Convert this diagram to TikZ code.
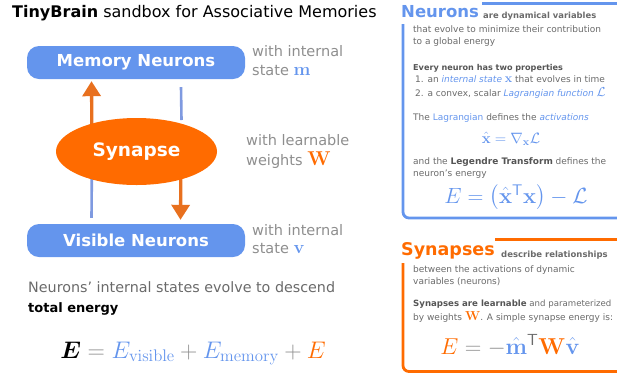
\RequirePackage{fix-cm}
\documentclass[tikz,border=0pt]{standalone}
\usepackage{amsmath,bm}
\usepackage[no-math]{fontspec}
\setmainfont{DejaVu Sans}
\usetikzlibrary{arrows.meta,calc,shapes.geometric}
\definecolor{nblue}{HTML}{6495ED}
\definecolor{lblue}{HTML}{7F9AE0}
\definecolor{sorange}{HTML}{FF6B00}
\definecolor{aorange}{HTML}{E8701E}
\definecolor{lgray}{HTML}{8E8E8E}
\definecolor{dgray}{HTML}{6A6A6A}
\definecolor{ddgray}{HTML}{555555}
\pgfdeclarelayer{bg}
\pgfsetlayers{bg,main}
\tikzset{
  nbox/.style={rounded corners=12pt, fill=nblue, text=white, minimum width=218pt, minimum height=33pt, inner sep=0pt, font=\fontsize{16.5}{20}\selectfont\bfseries},
  side/.style={anchor=base west, text=lgray, inner sep=0pt, font=\fontsize{14.5}{17}\selectfont},
  small/.style={anchor=base west, text=dgray, inner sep=0pt, font=\fontsize{9}{11}\selectfont},
  smallb/.style={small, text=ddgray, font=\fontsize{8.5}{11}\selectfont\bfseries},
  oarr/.style={draw=aorange, line width=3.3pt, -{Triangle[length=15pt,width=18pt]}},
  bline/.style={draw=lblue, line width=2.6pt},
  panelb/.style={draw=nblue, line width=2.8pt, rounded corners=6pt},
  panelo/.style={draw=sorange, line width=2.8pt, rounded corners=6pt},
}
\begin{document}
\begin{tikzpicture}[x=1pt,y=-1pt]
\useasboundingbox (0,0) rectangle (617,373);
% title
\node[anchor=base west, inner sep=0pt, font=\fontsize{16}{19}\selectfont] (title) at (12,17) {\textbf{TinyBrain} sandbox for Associative Memories};
% boxes
\node[nbox] (mem) at (136,62.5) {Memory Neurons};
\node[nbox] (vis) at (136,240.5) {Visible Neurons};
\node[ellipse, fill=sorange, text=white, minimum width=161pt, minimum height=67pt, inner sep=0pt, font=\fontsize{18.5}{22}\selectfont\bfseries] (syn) at (136.5,151.5) {Synapse};
% connectors
\begin{pgfonlayer}{bg}
\draw[oarr] ($(syn.center)+(-44.5,0)$) -- ($(mem.south)+(-44.5,2)$);
\draw[bline] ($(mem.south)+(45,8)$) -- ($(syn.center)+(45,-31.5)$);
\draw[bline] ($(syn.center)+(-44.5,0)$) -- ($(vis.north)+(-44.5,-6)$);
\draw[oarr] ($(syn.center)+(44.5,0)$) -- ($(vis.north)+(44.5,-4)$);
\end{pgfonlayer}
% side texts
\node[side] (m1) at (252,56) {with internal};
\node[side] (m2) at (252,75) {state {\fontsize{18}{18}\selectfont$\color{nblue}\mathbf{m}$}};
\node[side] (w1) at (246,145) {with learnable};
\node[side] (w2) at (246,165) {weights {\fontsize{20}{20}\selectfont$\color{sorange}\mathbf{W}$}};
\node[side] (v1) at (252,235) {with internal};
\node[side] (v2) at (252,253) {state {\fontsize{18}{18}\selectfont$\color{nblue}\mathbf{v}$}};
% energy text
\node[side, text=dgray, font=\fontsize{14.3}{17}\selectfont] (d1) at (28,292) {Neurons’ internal states evolve to descend};
\node[side, text=black, font=\fontsize{13}{16}\selectfont\bfseries] (d2) at (28,312) {total energy};
\node[anchor=base, inner sep=0pt, font=\fontsize{24}{28}\selectfont] (eq) at (193,358) {$\bm{E} \mathrel{\color{lgray}=} {\color{nblue}E_{\mathrm{visible}}} \mathbin{\color{lgray}+} {\color{nblue}E_{\mathrm{memory}}} \mathbin{\color{lgray}+} {\color{sorange}E}$};
% Neurons panel
\draw[panelb] (482,3.5) -- (640,3.5);
\draw[panelb] (403,24) -- (403,218) -- (640,218);
\node[anchor=base west, inner sep=0pt, text=nblue, font=\fontsize{16.5}{19}\selectfont\bfseries] (nt) at (401,17) {Neurons};
\node[smallb, text=dgray, font=\fontsize{8.4}{11}\selectfont\bfseries] (nt2) at (483,18) {are dynamical variables};
\node[small] (n1) at (413,32) {that evolve to minimize their contribution};
\node[small] (n2) at (413,44) {to a global energy};
\node[smallb, font=\fontsize{8.1}{11}\selectfont\bfseries] (n3) at (413,70) {Every neuron has two properties};
\node[small] (n4) at (415,82) {1. an \textit{\color{nblue}internal state} {\fontsize{12.5}{12}\selectfont$\color{nblue}\mathbf{x}$} that evolves in time};
\node[small] (n5) at (415,96) {2. a convex, scalar \textit{\color{nblue}Lagrangian function} {\fontsize{13}{12}\selectfont$\color{nblue}\mathcal{L}$}};
\node[small] (n6) at (413,120) {The {\color{nblue}Lagrangian} defines the \textit{\color{nblue}activations}};
\node[anchor=base, inner sep=0pt, text=nblue, font=\fontsize{15}{17}\selectfont] (ne1) at (511,143) {$\hat{\mathbf{x}} = \nabla_{\mathbf{x}}\mathcal{L}$};
\node[small] (n7) at (413,164) {and the \textbf{\color{ddgray}Legendre Transform} defines the};
\node[small] (n8) at (413,176) {neuron’s energy};
\node[anchor=base, inner sep=0pt, text=nblue, font=\fontsize{22}{26}\selectfont] (ne2) at (516,203) {$E = \left(\hat{\mathbf{x}}^{\mathsf{T}}\mathbf{x}\right) - \mathcal{L}$};
% Synapses panel
\draw[panelo] (495,239.5) -- (640,239.5);
\draw[panelo] (403,263) -- (403,371.5) -- (640,371.5);
\node[anchor=base west, inner sep=0pt, text=sorange, font=\fontsize{17.5}{20}\selectfont\bfseries] (st) at (401,255) {Synapses};
\node[smallb, text=dgray, font=\fontsize{8.5}{11}\selectfont\bfseries] (st2) at (501,257) {describe relationships};
\node[small] (s1) at (413,272) {between the activations of dynamic};
\node[small] (s2) at (413,284) {variables (neurons)};
\node[small, font=\fontsize{8.6}{11}\selectfont] (s3) at (413,306) {\textbf{\color{ddgray}Synapses are learnable} and parameterized};
\node[small] (s4) at (413,320) {by weights {\color{sorange}\fontsize{13}{13}\selectfont$\mathbf{W}$}. A simple synapse energy is:};
\node[anchor=base, inner sep=0pt, font=\fontsize{23}{26}\selectfont] (se) at (510,354) {${\color{sorange}E} \mathrel{\color{lgray}=} {\color{lgray}-}{\color{nblue}\hat{\mathbf{m}}}^{\color{dgray}\mathsf{T}}{\color{sorange}\mathbf{W}}{\color{nblue}\hat{\mathbf{v}}}$};
\end{tikzpicture}
\end{document}
